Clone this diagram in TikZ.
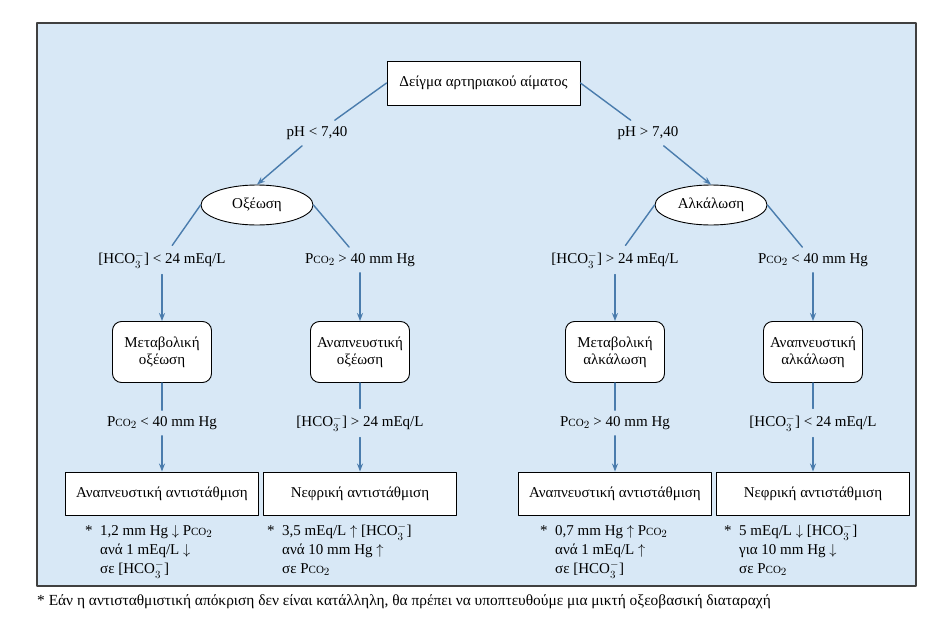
\documentclass[tikz,border=0pt]{standalone}
\usepackage{amsmath,amssymb}
\usepackage{fontspec}
\setmainfont{Liberation Serif}
\usepackage{tikz}
\definecolor{panelblue}{HTML}{D8E8F6}
\definecolor{arrowblue}{HTML}{4A7CAD}
\usetikzlibrary{arrows.meta,shapes.geometric}
\tikzset{
    txt/.style = {font=\fontsize{15}{17}\selectfont},
    samplebox/.style = {txt, draw, fill=white, line width=0.9pt, minimum width=193pt, minimum height=44pt},
    stateell/.style = {txt, ellipse, draw, fill=white, line width=0.9pt, minimum width=112pt, minimum height=40pt, inner sep=0pt},
    diagbox/.style = {txt, draw, fill=white, rounded corners=9pt, line width=0.9pt, align=center, minimum width=99pt, minimum height=61pt},
    compbox/.style = {txt, draw, fill=white, line width=0.9pt, minimum width=193pt, minimum height=43pt},
    cond/.style = {txt, inner xsep=3pt, inner ysep=6pt},
    link/.style = {draw=arrowblue, line width=1.4pt},
    flow/.style = {link, -{Stealth[length=8pt,width=6pt]}},
    note/.style = {txt, anchor=north west, inner sep=0pt}
}
\newcommand{\pco}{P{\fontsize{11}{11}\selectfont CO}$_2$}
\newcommand{\hco}{[HCO$_3^-$]}
\renewcommand{\arraystretch}{1.12}

\begin{document}
\begin{tikzpicture}[x=1pt, y=-1pt, line cap=round, line join=round]
\useasboundingbox (0,0) rectangle (943,629);
\draw [fill=panelblue, draw=black!75, line width=1.2pt] (37,23) rectangle (916,586);
% top of the tree
\node[samplebox] (sample) at (483.5,83) {Δείγμα αρτηριακού αίματος};
\node[cond] (phlow) at (317,133) {pH < 7,40};
\node[cond] (phhigh) at (648,133) {pH > 7,40};
\node[stateell] (acid) at (257,205) {Οξέωση};
\node[stateell] (alk) at (711,205) {Αλκάλωση};
% conditions under the ellipses
\node[cond] (acidmet) at (162,260) {\hco\ < 24 mEq/L};
\node[cond] (acidresp) at (360,260) {\pco\ > 40 mm Hg};
\node[cond] (alkmet) at (615,260) {\hco\ > 24 mEq/L};
\node[cond] (alkresp) at (813,260) {\pco\ < 40 mm Hg};
% diagnoses
\node[diagbox] (metacid) at (162,352) {Μεταβολική\\οξέωση};
\node[diagbox] (respacid) at (360,352) {Αναπνευστική\\οξέωση};
\node[diagbox] (metalk) at (615,352) {Μεταβολική\\αλκάλωση};
\node[diagbox] (respalk) at (813,352) {Αναπνευστική\\αλκάλωση};
% compensation conditions
\node[cond] (cmpa) at (162,423) {\pco\ < 40 mm Hg};
\node[cond] (cmpb) at (360,423) {\hco\ > 24 mEq/L};
\node[cond] (cmpc) at (615,423) {\pco\ > 40 mm Hg};
\node[cond] (cmpd) at (813,423) {\hco\ < 24 mEq/L};
% compensation boxes
\node[compbox] (compa) at (162,493.5) {Αναπνευστική αντιστάθμιση};
\node[compbox] (compb) at (360,493.5) {Νεφρική αντιστάθμιση};
\node[compbox] (compc) at (615,493.5) {Αναπνευστική αντιστάθμιση};
\node[compbox] (compd) at (813,493.5) {Νεφρική αντιστάθμιση};
% notes
\node[note] (notea) at (85,522) {\begin{tabular}{@{}l@{\ \ }l@{}}*&1,2 mm Hg $\downarrow$ \pco\\&ανά 1 mEq/L $\downarrow$\\&σε \hco\end{tabular}};
\node[note] (noteb) at (267,522) {\begin{tabular}{@{}l@{\ \ }l@{}}*&3,5 mEq/L $\uparrow$ \hco\\&ανά 10 mm Hg $\uparrow$\\&σε \pco\end{tabular}};
\node[note] (notec) at (540,522) {\begin{tabular}{@{}l@{\ \ }l@{}}*&0,7 mm Hg $\uparrow$ \pco\\&ανά 1 mEq/L $\uparrow$\\&σε \hco\end{tabular}};
\node[note] (noted) at (724,522) {\begin{tabular}{@{}l@{\ \ }l@{}}*&5 mEq/L $\downarrow$ \hco\\&για 10 mm Hg $\downarrow$\\&σε \pco\end{tabular}};
\node[anchor=west, inner sep=0pt, font=\fontsize{15.4}{17}\selectfont] (foot) at (37,602) {* Εάν η αντισταθμιστική απόκριση δεν είναι κατάλληλη, θα πρέπει να υποπτευθούμε μια μικτή οξεοβασική διαταραχή};
% connectors
\draw [link] (sample.west) -- (phlow);
\draw [link] (sample.east) -- (phhigh);
\draw [flow] (phlow) -- (acid.north);
\draw [flow] (phhigh) -- (alk.north);
\draw [link] (acid.west) -- (acidmet);
\draw [link] (acid.east) -- (acidresp);
\draw [link] (alk.west) -- (alkmet);
\draw [link] (alk.east) -- (alkresp);
\draw [flow] (acidmet) -- (metacid);
\draw [flow] (acidresp) -- (respacid);
\draw [flow] (alkmet) -- (metalk);
\draw [flow] (alkresp) -- (respalk);
\draw [link] (metacid) -- (cmpa);
\draw [link] (respacid) -- (cmpb);
\draw [link] (metalk) -- (cmpc);
\draw [link] (respalk) -- (cmpd);
\draw [flow] (cmpa) -- (compa);
\draw [flow] (cmpb) -- (compb);
\draw [flow] (cmpc) -- (compc);
\draw [flow] (cmpd) -- (compd);
\end{tikzpicture}
\end{document}
